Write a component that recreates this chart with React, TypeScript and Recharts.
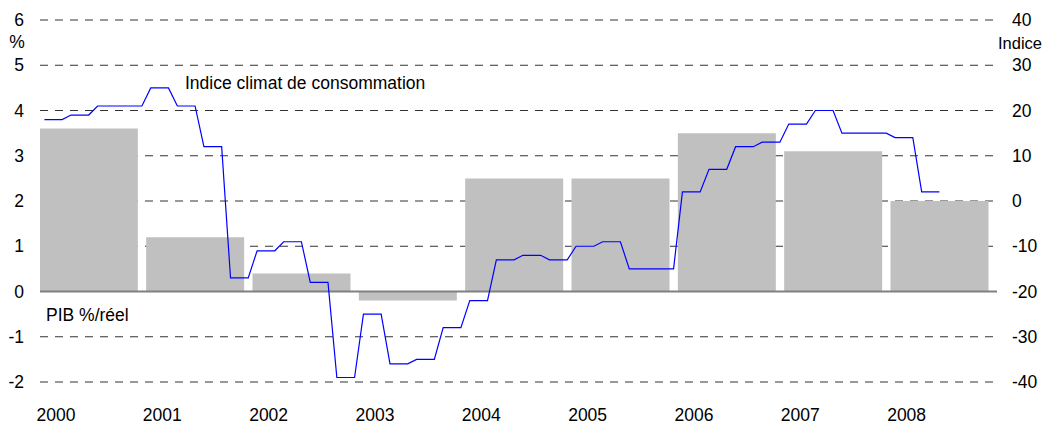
import {
  Bar,
  CartesianGrid,
  ComposedChart,
  Line,
  ReferenceLine,
  XAxis,
  YAxis,
} from 'recharts';

const years = ['2000', '2001', '2002', '2003', '2004', '2005', '2006', '2007', '2008'];

// PIB, croissance réelle en % (barres, axe de gauche)
const pibReel = [3.6, 1.2, 0.4, -0.2, 2.5, 2.5, 3.5, 3.1, 2.0];

// Indice climat de consommation, mensuel janv. 2000 -> juin 2008 (axe de droite)
const climatConso = [
  18, 18, 18, 19, 19, 19, 21, 21, 21, 21, 21, 21, // 2000
  25, 25, 25, 21, 21, 21, 12, 12, 12, -17, -17, -17, // 2001
  -11, -11, -11, -9, -9, -9, -18, -18, -18, -39, -39, -39, // 2002
  -25, -25, -25, -36, -36, -36, -35, -35, -35, -28, -28, -28, // 2003
  -22, -22, -22, -13, -13, -13, -12, -12, -12, -13, -13, -13, // 2004
  -10, -10, -10, -9, -9, -9, -15, -15, -15, -15, -15, -15, // 2005
  2, 2, 2, 7, 7, 7, 12, 12, 12, 13, 13, 13, // 2006
  17, 17, 17, 20, 20, 20, 15, 15, 15, 15, 15, 15, // 2007
  14, 14, 14, 2, 2, 2, // 2008
];

const pctTicks = [-2, -1, 0, 1, 2, 3, 4, 5, 6];
const indiceTicks = [-40, -30, -20, -10, 0, 10, 20, 30, 40];

const FONT = '"Liberation Sans", Arial, sans-serif';
const FS = 17.5;

// x axis counts months from Jan 2000
const barRows = years.map((year, i) => ({ x: i * 12 + 5.53, year, pib: pibReel[i] }));
const lineRows = climatConso.map((v, i) => ({ x: i + 0.5, climat: v }));
const yearTicks = years.map((_, i) => i * 12);

function YearTick({ x, y, payload }: any) {
  const label = years[Math.round(payload.value / 12)];
  return (
    <text x={x - 3.5} y={y + 39} textAnchor="start" fontFamily={FONT} fontSize={FS} fill="#000">
      {label}
    </text>
  );
}

export default function App() {
  const tick = { fontFamily: FONT, fontSize: FS, fill: '#000' };
  return (
    <div style={{ position: 'absolute', left: 0, top: 0, width: 1043, height: 425, background: '#fff' }}>
      <ComposedChart
        width={1043}
        height={425}
        data={barRows}
        margin={{ top: 20, right: 0, bottom: 0, left: 0 }}
      >
        <CartesianGrid yAxisId="l" vertical={false} stroke="#333" strokeDasharray="8 7" />
        <XAxis
          dataKey="x"
          type="number"
          domain={[0, 108]}
          ticks={yearTicks}
          allowDataOverflow
          height={43}
          axisLine={false}
          tickLine={false}
          tickSize={0}
          tickMargin={0}
          tick={<YearTick />}
          interval={0}
        />
        <XAxis
          xAxisId="bar"
          dataKey="x"
          type="number"
          domain={[0, 108]}
          ticks={yearTicks}
          allowDataOverflow
          hide
        />
        <YAxis
          yAxisId="l"
          domain={[-2, 6]}
          ticks={pctTicks}
          width={40}
          axisLine={false}
          tickLine={false}
          tickSize={0}
          tickMargin={16}
          tick={tick}
          interval={0}
        />
        <YAxis
          yAxisId="r"
          orientation="right"
          domain={[-40, 40]}
          ticks={indiceTicks}
          width={46}
          axisLine={false}
          tickLine={false}
          tickSize={0}
          tickMargin={15}
          tick={tick}
          interval={0}
        />
        <Bar
          xAxisId="bar"
          yAxisId="l"
          dataKey="pib"
          fill="#c0c0c0"
          barSize={98}
          isAnimationActive={false}
        />
        <ReferenceLine yAxisId="l" y={0} stroke="#808080" strokeWidth={2} />
        <Line
          yAxisId="r"
          data={lineRows}
          dataKey="climat"
          type="linear"
          stroke="#0000ff"
          strokeWidth={1.2}
          dot={false}
          activeDot={false}
          isAnimationActive={false}
        />
      </ComposedChart>
      <svg
        width={1043}
        height={425}
        style={{ position: 'absolute', left: 0, top: 0, pointerEvents: 'none' }}
      >
        <g fontFamily={FONT} fontSize={FS} fill="#000" dominantBaseline="central">
          <text x={17} y={42} textAnchor="middle">%</text>
          <text x={1042} y={43} textAnchor="end" fontSize={16.5}>Indice</text>
          <text x={185} y={83}>Indice climat de consommation</text>
          <text x={46} y={315}>PIB %/réel</text>
        </g>
      </svg>
    </div>
  );
}
